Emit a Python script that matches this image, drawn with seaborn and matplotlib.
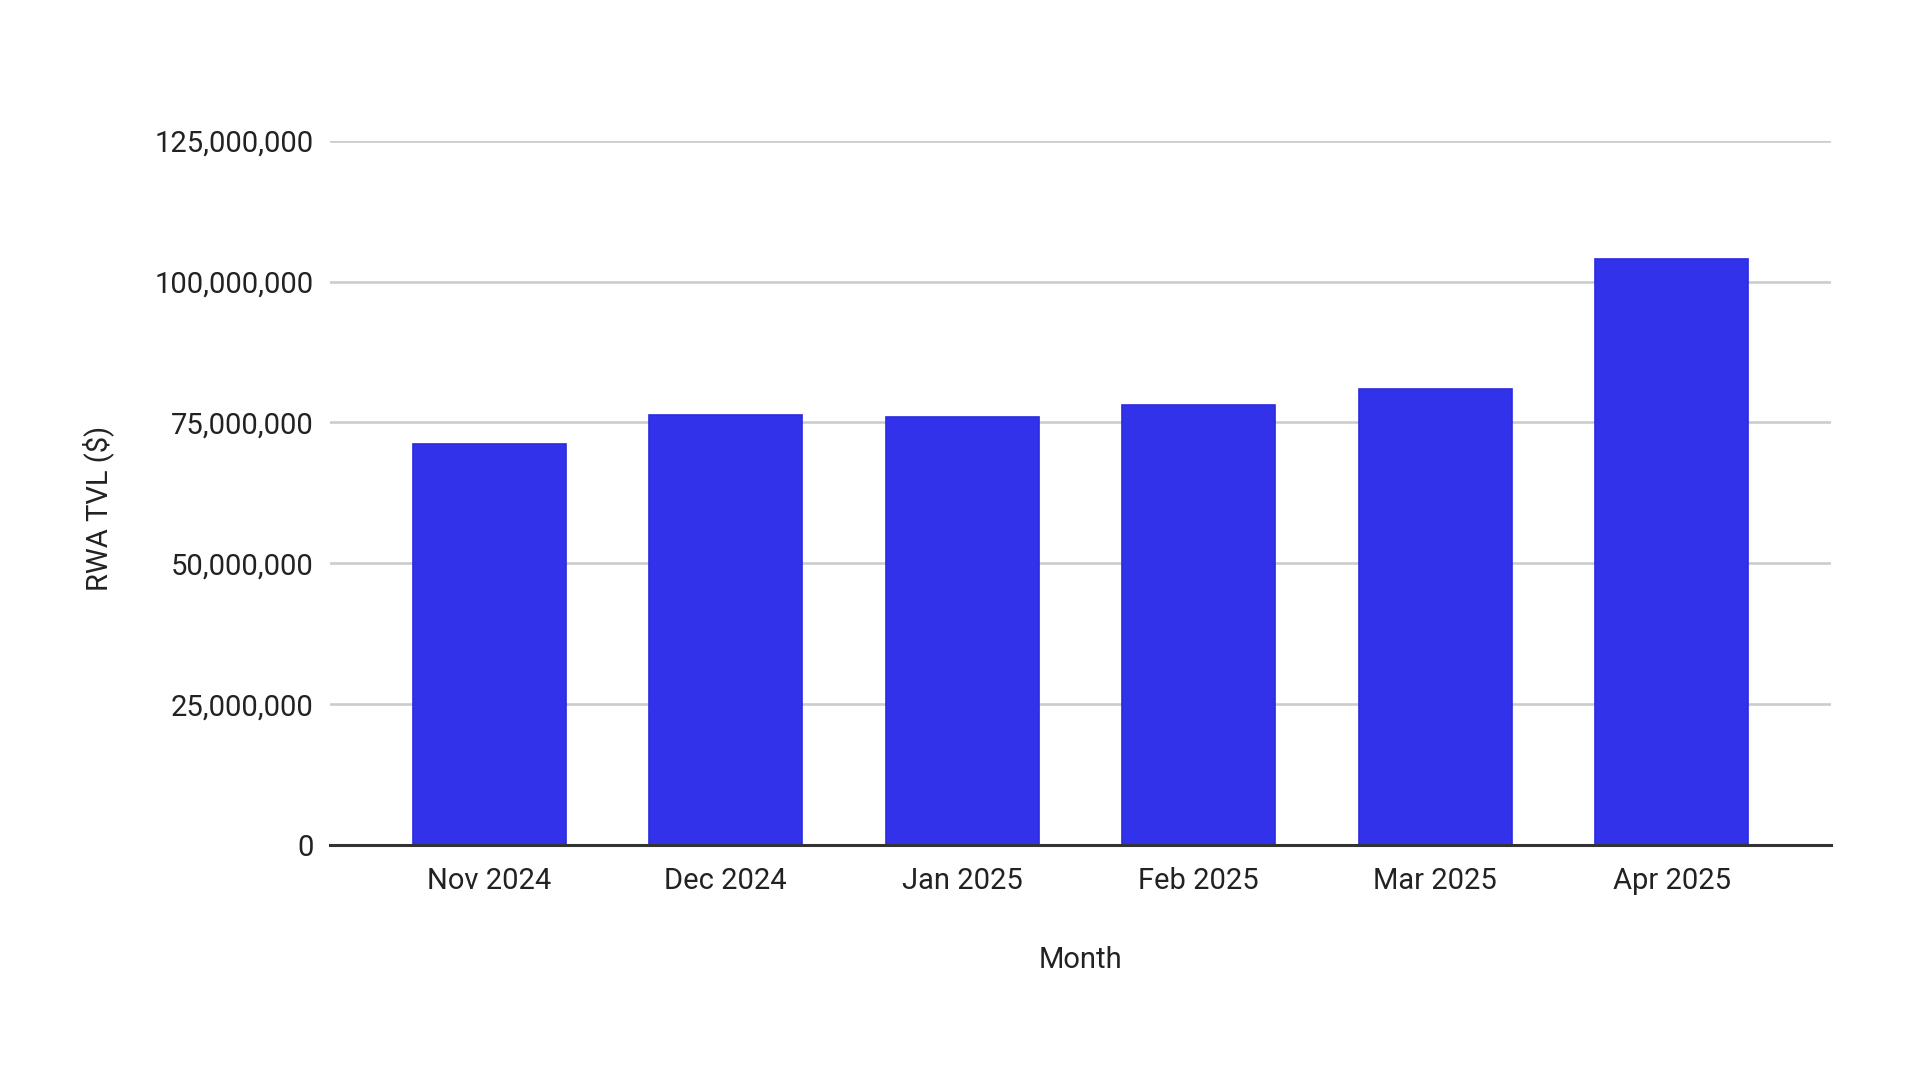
import matplotlib
matplotlib.use("Agg")
import matplotlib.pyplot as plt
import seaborn as sns
import pandas as pd
from matplotlib.ticker import FuncFormatter, MultipleLocator

months = ["Nov 2024", "Dec 2024", "Jan 2025", "Feb 2025", "Mar 2025", "Apr 2025"]
rwa_tvl = [71_200_000, 76_300_000, 75_900_000, 78_100_000, 81_000_000, 104_100_000]

df = pd.DataFrame({"Month": months, "RWA TVL ($)": rwa_tvl})

sns.set_theme(style="white")
plt.rcParams["font.family"] = ["Roboto", "DejaVu Sans"]

fig = plt.figure(figsize=(19.2, 10.8), dpi=100)
ax = fig.add_axes([0.172, 0.2176, 0.7815, 0.652])

sns.barplot(data=df, x="Month", y="RWA TVL ($)", color="#3232EA", width=0.648,
            saturation=1, ax=ax, edgecolor="#2a2ade", linewidth=1.2, zorder=3)

ax.set_ylim(0, 125_000_000)
ax.set_xlim(-0.673, 5.673)
ax.yaxis.set_major_locator(MultipleLocator(25_000_000))
ax.yaxis.set_major_formatter(FuncFormatter(lambda v, p: f"{int(v):,}"))

ax.grid(axis="y", color="#cccccc", linewidth=1.9, zorder=0)
ax.grid(axis="x", visible=False)
ax.set_axisbelow(True)
for s in ["top", "right", "left"]:
    ax.spines[s].set_visible(False)
ax.spines["bottom"].set_color("#333333")
ax.spines["bottom"].set_linewidth(2.2)
ax.spines["bottom"].set_zorder(4)

ax.tick_params(axis="both", length=0, labelsize=21, colors="#222222")
ax.tick_params(axis="y", pad=12)
ax.tick_params(axis="x", pad=16)

ax.set_xlabel("Month", fontsize=21, color="#222222")
ax.set_ylabel("RWA TVL ($)", fontsize=21, color="#222222")
ax.xaxis.set_label_coords(0.5, -0.163)
ax.xaxis.label.set_verticalalignment("center")
ax.yaxis.set_label_coords(-0.155, 0.478)
ax.yaxis.label.set_verticalalignment("center")

fig.savefig("out.png", dpi=100, facecolor="white")
